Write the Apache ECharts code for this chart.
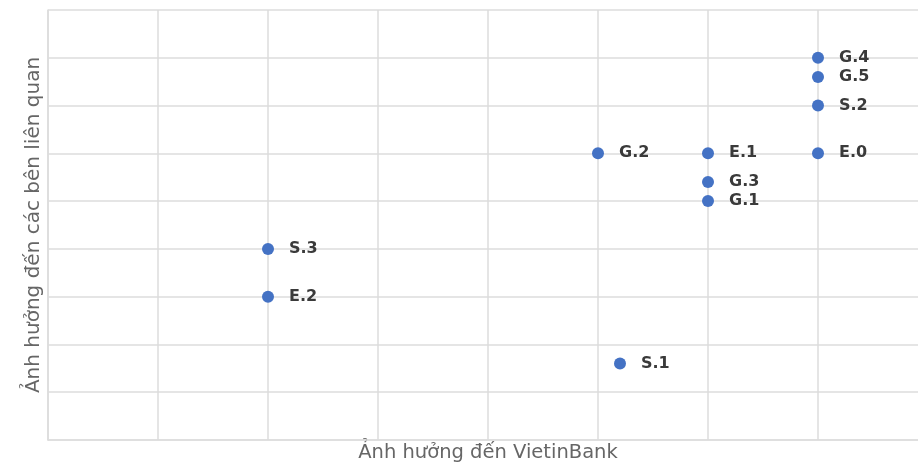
<!DOCTYPE html>
<html>
<head>
<meta charset="utf-8">
<script src="https://cdn.jsdelivr.net/npm/echarts@6/dist/echarts.min.js"></script>
<style>
    html, body { margin: 0; padding: 0; background: #fff; }
    #chart { width: 918px; height: 470px; }
</style>
</head>
<body>
<div id="chart"></div>
<script>
    // du lieu doc tu hinh
    var names = ['G.4', 'G.5', 'S.2', 'E.0', 'E.1', 'G.2', 'G.3', 'G.1', 'S.3', 'E.2', 'S.1'];
    var xVals = [7, 7, 7, 7, 6, 5, 6, 6, 2, 2, 5.2];
    var yVals = [8, 7.6, 7, 6, 6, 6, 5.4, 5, 4, 3, 1.6];

    var points = names.map(function (n, i) {
        return { name: n, value: [xVals[i], yVals[i]] };
    });

    var myChart = echarts.init(document.getElementById('chart'));

    var option = {
        animation: false,
        textStyle: { fontFamily: 'DejaVu Sans' },
        grid: {
            left: 48,
            width: 880,
            top: 10,
            bottom: 30,
            outerBoundsMode: 'none'
        },
        xAxis: {
            type: 'value',
            min: 0,
            max: 8,
            interval: 1,
            name: 'Ảnh hưởng đến VietinBank',
            nameLocation: 'middle',
            nameGap: 3,
            nameTextStyle: { fontSize: 19.5, color: '#666', verticalAlign: 'top' },
            axisLine: { show: true, lineStyle: { color: '#ddd', width: 1.5 } },
            axisTick: { show: false },
            axisLabel: { show: false },
            splitLine: { lineStyle: { color: '#ddd', width: 1.5 } }
        },
        yAxis: {
            type: 'value',
            min: 0,
            max: 9,
            interval: 1,
            name: 'Ảnh hưởng đến các bên liên quan',
            nameLocation: 'middle',
            nameGap: 4,
            nameTextStyle: { fontSize: 20, color: '#666' },
            axisLine: { show: true, lineStyle: { color: '#ddd', width: 1.5 } },
            axisTick: { show: false },
            axisLabel: { show: false },
            splitLine: { lineStyle: { color: '#ddd', width: 1.5 } }
        },
        series: [
            {
                type: 'scatter',
                symbolSize: 12,
                itemStyle: { color: '#4472c4', opacity: 1 },
                label: {
                    show: true,
                    position: 'right',
                    distance: 15,
                    formatter: '{b}',
                    fontSize: 16,
                    fontWeight: 'bold',
                    color: '#3a3a3a'
                },
                data: points
            }
        ]
    };

    myChart.setOption(option);
</script>
</body>
</html>
